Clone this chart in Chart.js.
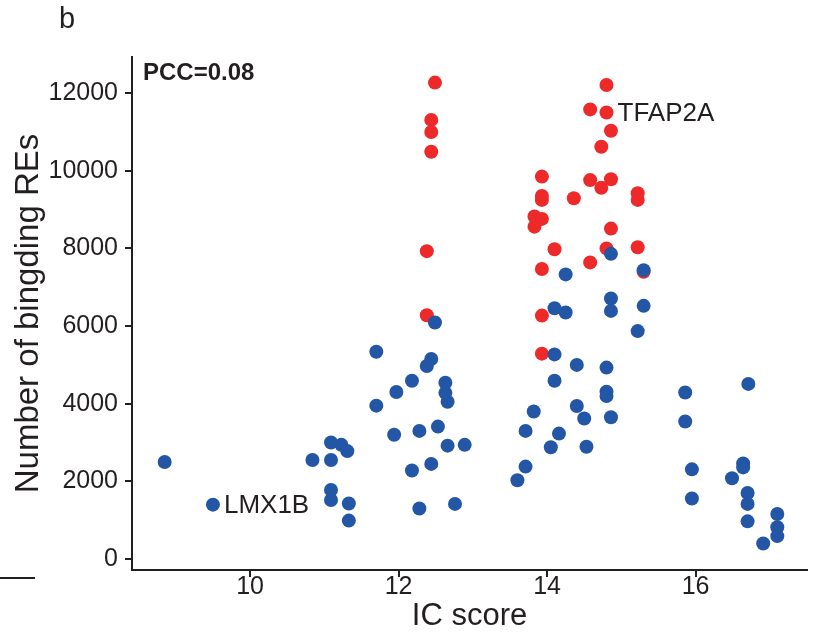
<!DOCTYPE html>
<html>
<head>
<meta charset="utf-8">
<script src="https://cdn.jsdelivr.net/npm/chart.js@4"></script>
<style>
  html, body { margin: 0; padding: 0; background: #ffffff; }
  #wrap { position: relative; width: 814px; height: 638px; }
  canvas { display: block; }
</style>
</head>
<body>
<div id="wrap"><canvas id="c" width="814" height="638"></canvas></div>
<script>
// ---- data ----
const panelLabel = "b";
const xTitle = "IC score";
const yTitle = "Number of bingding REs";
const pccText = "PCC=0.08";
const xTickValues = [10, 12, 14, 16];
const yTickValues = [0, 2000, 4000, 6000, 8000, 10000, 12000];

// blue (other) points
const blueX = [8.85, 9.50, 10.84, 11.09, 11.23, 11.31, 11.09, 11.09, 11.09, 11.33, 11.33, 11.70, 11.70,
  12.49, 12.44, 12.38, 12.18, 11.97, 12.63, 12.63, 12.66, 11.94, 12.28, 12.53, 12.66, 12.89, 12.18, 12.44, 12.28, 12.76,
  14.86, 14.25, 15.30, 14.86, 14.86, 14.10, 14.25, 15.30, 15.22, 14.10, 14.40, 14.80, 14.10, 14.80, 14.80,
  13.82, 14.40, 14.50, 14.86, 13.71, 14.16, 14.05, 14.53, 13.71, 13.60,
  15.86, 16.71, 15.86, 15.95, 16.64, 16.64, 16.49, 15.95, 16.70, 16.70, 16.70, 16.91, 17.10, 17.10, 17.10];
const blueY = [2500, 1400, 2550, 3000, 2940, 2780, 2550, 1780, 1520, 1430, 990, 5340, 3950,
  6090, 5150, 4970, 4590, 4300, 4540, 4280, 4050, 3200, 3300, 3410, 2920, 2940, 2280, 2450, 1300, 1420,
  7860, 7330, 7440, 6710, 6390, 6460, 6350, 6520, 5870, 5270, 5000, 4930, 4590, 4310, 4200,
  3800, 3940, 3620, 3650, 3300, 3230, 2880, 2890, 2380, 2030,
  4290, 4510, 3540, 2310, 2460, 2360, 2080, 1560, 1700, 1420, 970, 400, 1160, 820, 590];

// red (highlighted) points
const redX = [12.49, 12.44, 12.44, 12.44, 12.38, 12.38,
  14.80, 14.58, 14.80, 14.86, 14.73, 13.93, 14.58, 14.86, 14.73, 13.93, 13.93, 14.36, 15.22, 15.22,
  13.83, 13.93, 13.83, 14.86, 14.10, 14.80, 15.22, 14.58, 13.93, 15.30, 13.93, 13.93];
const redY = [12270, 11310, 11000, 10490, 7930, 6280,
  12210, 11580, 11500, 11030, 10620, 9850, 9760, 9780, 9560, 9350, 9250, 9290, 9420, 9250,
  8820, 8760, 8560, 8510, 7980, 8000, 8030, 7640, 7470, 7400, 6270, 5290];

// point labels: [text, x, y] of the labelled point
const pointLabels = [["LMX1B", 9.50, 1400], ["TFAP2A", 14.80, 11500]];

// ---- styling ----
const FONT = "'Liberation Sans', Arial, Helvetica, sans-serif";
const INK = "#231f20";
const BLUE = "rgb(36,86,166)";
const RED = "rgb(237,41,41)";

const toPts = (xs, ys) => xs.map((x, i) => ({ x: x, y: ys[i] }));

const annot = {
  id: "annot",
  afterDatasetsDraw(chart) {
    const ctx = chart.ctx;
    const xs = chart.scales.x, ys = chart.scales.y;
    const area = chart.chartArea;
    ctx.save();
    ctx.fillStyle = INK;
    ctx.textBaseline = "middle";
    ctx.textAlign = "left";
    ctx.font = "26px " + FONT;
    pointLabels.forEach(([t, x, y]) => {
      ctx.fillText(t, xs.getPixelForValue(x) + 11, ys.getPixelForValue(y) + 1);
    });
    ctx.font = "bold 24px " + FONT;
    ctx.fillText(pccText, area.left + 11, area.top + 16);
    ctx.font = "29px " + FONT;
    ctx.textBaseline = "alphabetic";
    ctx.fillText(panelLabel, 59, 28);
    // stray rule of the neighbouring panel
    ctx.strokeStyle = INK;
    ctx.lineWidth = 2;
    ctx.beginPath();
    ctx.moveTo(0, 578);
    ctx.lineTo(35, 578);
    ctx.stroke();
    ctx.restore();
  }
};

new Chart(document.getElementById("c"), {
  type: "scatter",
  data: {
    datasets: [
      { label: "other", data: toPts(blueX, blueY), backgroundColor: BLUE, borderWidth: 0,
        pointRadius: 7, pointHoverRadius: 7, order: 1 },
      { label: "high", data: toPts(redX, redY), backgroundColor: RED, borderWidth: 0,
        pointRadius: 7, pointHoverRadius: 7, order: 2 }
    ]
  },
  options: {
    responsive: false,
    animation: false,
    devicePixelRatio: 1,
    layout: { padding: { top: 57, right: 0, left: 0, bottom: 0 } },
    plugins: { legend: { display: false }, tooltip: { enabled: false }, title: { display: false } },
    scales: {
      x: {
        type: "linear",
        min: 8.41, max: 17.5,
        afterBuildTicks: (s) => { s.ticks = xTickValues.map(v => ({ value: v })); },
        afterFit: (s) => { s.height = 68; },
        border: { display: true, color: INK, width: 2 },
        grid: { display: true, drawOnChartArea: false, drawTicks: true, tickLength: 7, color: INK, lineWidth: 2 },
        ticks: { color: INK, font: { family: FONT, size: 25, lineHeight: 1 }, padding: -2, maxRotation: 0, autoSkip: false,
                 callback: (v) => String(v) },
        title: { display: true, text: xTitle, color: INK, font: { family: FONT, size: 31, lineHeight: 1.2 }, padding: { top: 0, bottom: 3 } }
      },
      y: {
        type: "linear",
        min: -283, max: 12930,
        afterBuildTicks: (s) => { s.ticks = yTickValues.map(v => ({ value: v })); },
        afterFit: (s) => { s.width = 132; },
        border: { display: true, color: INK, width: 2 },
        grid: { display: true, drawOnChartArea: false, drawTicks: true, tickLength: 7, color: INK, lineWidth: 2 },
        ticks: { color: INK, font: { family: FONT, size: 25 }, padding: 7, autoSkip: false,
                 callback: (v) => String(v) },
        title: { display: true, text: yTitle, color: INK, font: { family: FONT, size: 33, lineHeight: 1.2 }, padding: { top: 9, bottom: 0 } }
      }
    }
  },
  plugins: [annot]
});
</script>
</body>
</html>
